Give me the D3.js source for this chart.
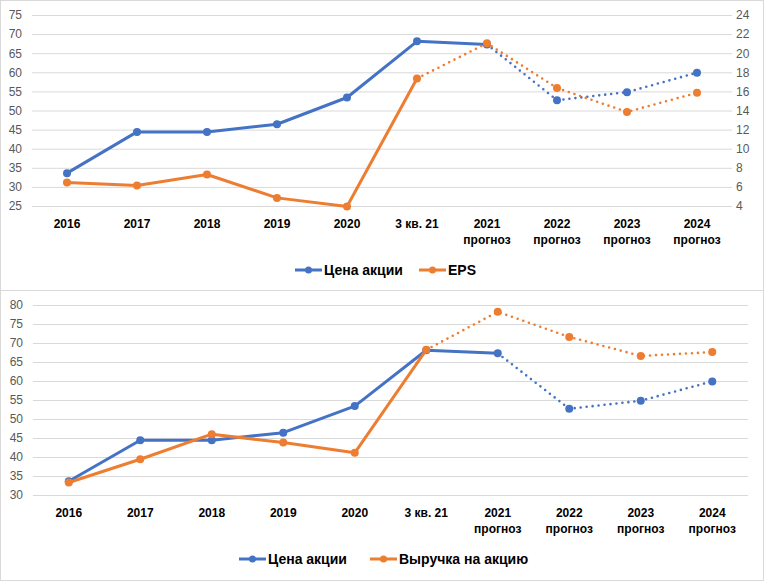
<!DOCTYPE html>
<meta charset="utf-8">
<script src="https://d3js.org/d3.v7.min.js"></script>
<style>
  body { margin: 0; background: #fff; }
  text { font-family: "Liberation Sans", Arial, sans-serif; }
</style>
<div id="my_dataviz"></div>
<script>

// categories (second line is the "прогноз" caption)
var categories = ["2016", "2017", "2018", "2019", "2020", "3 кв. 21", "2021", "2022", "2023", "2024"];
var subLabels = ["", "", "", "", "", "", "прогноз", "прогноз", "прогноз", "прогноз"];

// share price, same on both charts
var price = [33.6, 44.4, 44.4, 46.4, 53.4, 68.1, 67.3, 52.7, 54.8, 59.9];
// EPS, right axis of the top chart
var eps = [6.45, 6.15, 7.3, 4.85, 3.95, 17.35, 21.05, 16.35, 13.85, 15.85];
// revenue per share
var revenue = [33.3, 39.4, 46.0, 43.8, 41.1, 68.2, 78.2, 71.6, 66.6, 67.6];

var leftTicksTop = [25, 30, 35, 40, 45, 50, 55, 60, 65, 70, 75];
var rightTicksTop = [4, 6, 8, 10, 12, 14, 16, 18, 20, 22, 24];
var leftTicksBottom = [30, 35, 40, 45, 50, 55, 60, 65, 70, 75, 80];

var blue = "#4472C4", orange = "#ED7D31";

var svg = d3.select("#my_dataviz")
  .append("svg")
    .attr("width", 766)
    .attr("height", 583);

// chart frames
svg.append("rect").attr("x", 0.5).attr("y", 0.5).attr("width", 763).attr("height", 290)
  .attr("fill", "none").attr("stroke", "#d9d9d9");
svg.append("rect").attr("x", 0.5).attr("y", 290.5).attr("width", 763).attr("height", 290)
  .attr("fill", "none").attr("stroke", "#d9d9d9");

function drawChart(opt) {
  var g = svg.append("g");

  var x = d3.scaleBand()
    .domain(categories)
    .range([opt.left, opt.right]);

  var y = d3.scaleLinear()
    .domain([opt.ticks[0], opt.ticks[opt.ticks.length - 1]])
    .range([opt.bottom, opt.top]);

  // gridlines + left labels
  var yAxis = d3.axisLeft(y).tickValues(opt.ticks).tickSize(-(opt.right - opt.left)).tickPadding(10);
  var ga = g.append("g")
    .attr("transform", "translate(" + opt.left + ",0)")
    .call(yAxis);
  ga.select(".domain").remove();
  ga.selectAll("line").attr("stroke", "#d9d9d9");
  ga.selectAll("text").attr("fill", "#595959").attr("font-size", 12);

  var y2 = null;
  if (opt.rightTicks) {
    y2 = d3.scaleLinear()
      .domain([opt.rightTicks[0], opt.rightTicks[opt.rightTicks.length - 1]])
      .range([opt.bottom, opt.top]);
    var gr = g.append("g")
      .attr("transform", "translate(" + opt.right + ",0)")
      .call(d3.axisRight(y2).tickValues(opt.rightTicks).tickSize(0).tickPadding(4));
    gr.select(".domain").remove();
    gr.selectAll("text").attr("fill", "#595959").attr("font-size", 12);
  }

  // category labels
  var cx = function (d) { return x(d) + x.bandwidth() / 2; };
  g.selectAll(".cat")
    .data(categories)
    .enter()
    .append("text")
      .attr("x", cx)
      .attr("y", opt.bottom + 22)
      .attr("text-anchor", "middle")
      .attr("font-size", 12)
      .attr("font-weight", "bold")
      .attr("fill", "#000")
      .text(function (d) { return d; });
  g.selectAll(".sub")
    .data(categories)
    .enter()
    .append("text")
      .attr("x", cx)
      .attr("y", opt.bottom + 38)
      .attr("text-anchor", "middle")
      .attr("font-size", 12)
      .attr("font-weight", "bold")
      .attr("fill", "#000")
      .text(function (d, i) { return subLabels[i]; });

  // series: solid up to "brk", dotted after
  opt.series.forEach(function (s) {
    var sc = s.axis === 2 ? y2 : y;
    var pts = s.values.map(function (v, i) { return [cx(categories[i]), sc(v)]; });
    var line = d3.line();
    g.append("path")
      .attr("d", line(pts.slice(0, s.brk + 1)))
      .attr("fill", "none").attr("stroke", s.color).attr("stroke-width", 3)
      .attr("stroke-linejoin", "round");
    g.append("path")
      .attr("d", line(pts.slice(s.brk)))
      .attr("fill", "none").attr("stroke", s.color).attr("stroke-width", 2.6)
      .attr("stroke-linecap", "round")
      .attr("stroke-dasharray", "0,6");
    g.selectAll(null)
      .data(pts)
      .enter()
      .append("circle")
        .attr("cx", function (d) { return d[0]; })
        .attr("cy", function (d) { return d[1]; })
        .attr("r", 4)
        .attr("fill", s.color);
  });

  // legend
  opt.legend.forEach(function (l) {
    g.append("line")
      .attr("x1", l.x).attr("x2", l.x + 27)
      .attr("y1", opt.legendY).attr("y2", opt.legendY)
      .attr("stroke", l.color).attr("stroke-width", 3);
    g.append("circle")
      .attr("cx", l.x + 13.5).attr("cy", opt.legendY).attr("r", 3.5)
      .attr("fill", l.color);
    g.append("text")
      .attr("x", l.x + 29)
      .attr("y", opt.legendY + 5)
      .attr("font-size", 14)
      .attr("font-weight", "bold")
      .attr("fill", "#000")
      .text(l.label);
  });
}

drawChart({
  left: 32, right: 732, top: 15, bottom: 206,
  ticks: leftTicksTop, rightTicks: rightTicksTop,
  series: [
    {values: price, color: blue, axis: 1, brk: 6},
    {values: eps, color: orange, axis: 2, brk: 5}
  ],
  legendY: 270,
  legend: [
    {x: 295, color: blue, label: "Цена акции"},
    {x: 419, color: orange, label: "EPS"}
  ]
});

drawChart({
  left: 33, right: 748, top: 305, bottom: 495,
  ticks: leftTicksBottom,
  series: [
    {values: price, color: blue, axis: 1, brk: 6},
    {values: revenue, color: orange, axis: 1, brk: 5}
  ],
  legendY: 559,
  legend: [
    {x: 239, color: blue, label: "Цена акции"},
    {x: 370, color: orange, label: "Выручка на акцию"}
  ]
});

</script>
